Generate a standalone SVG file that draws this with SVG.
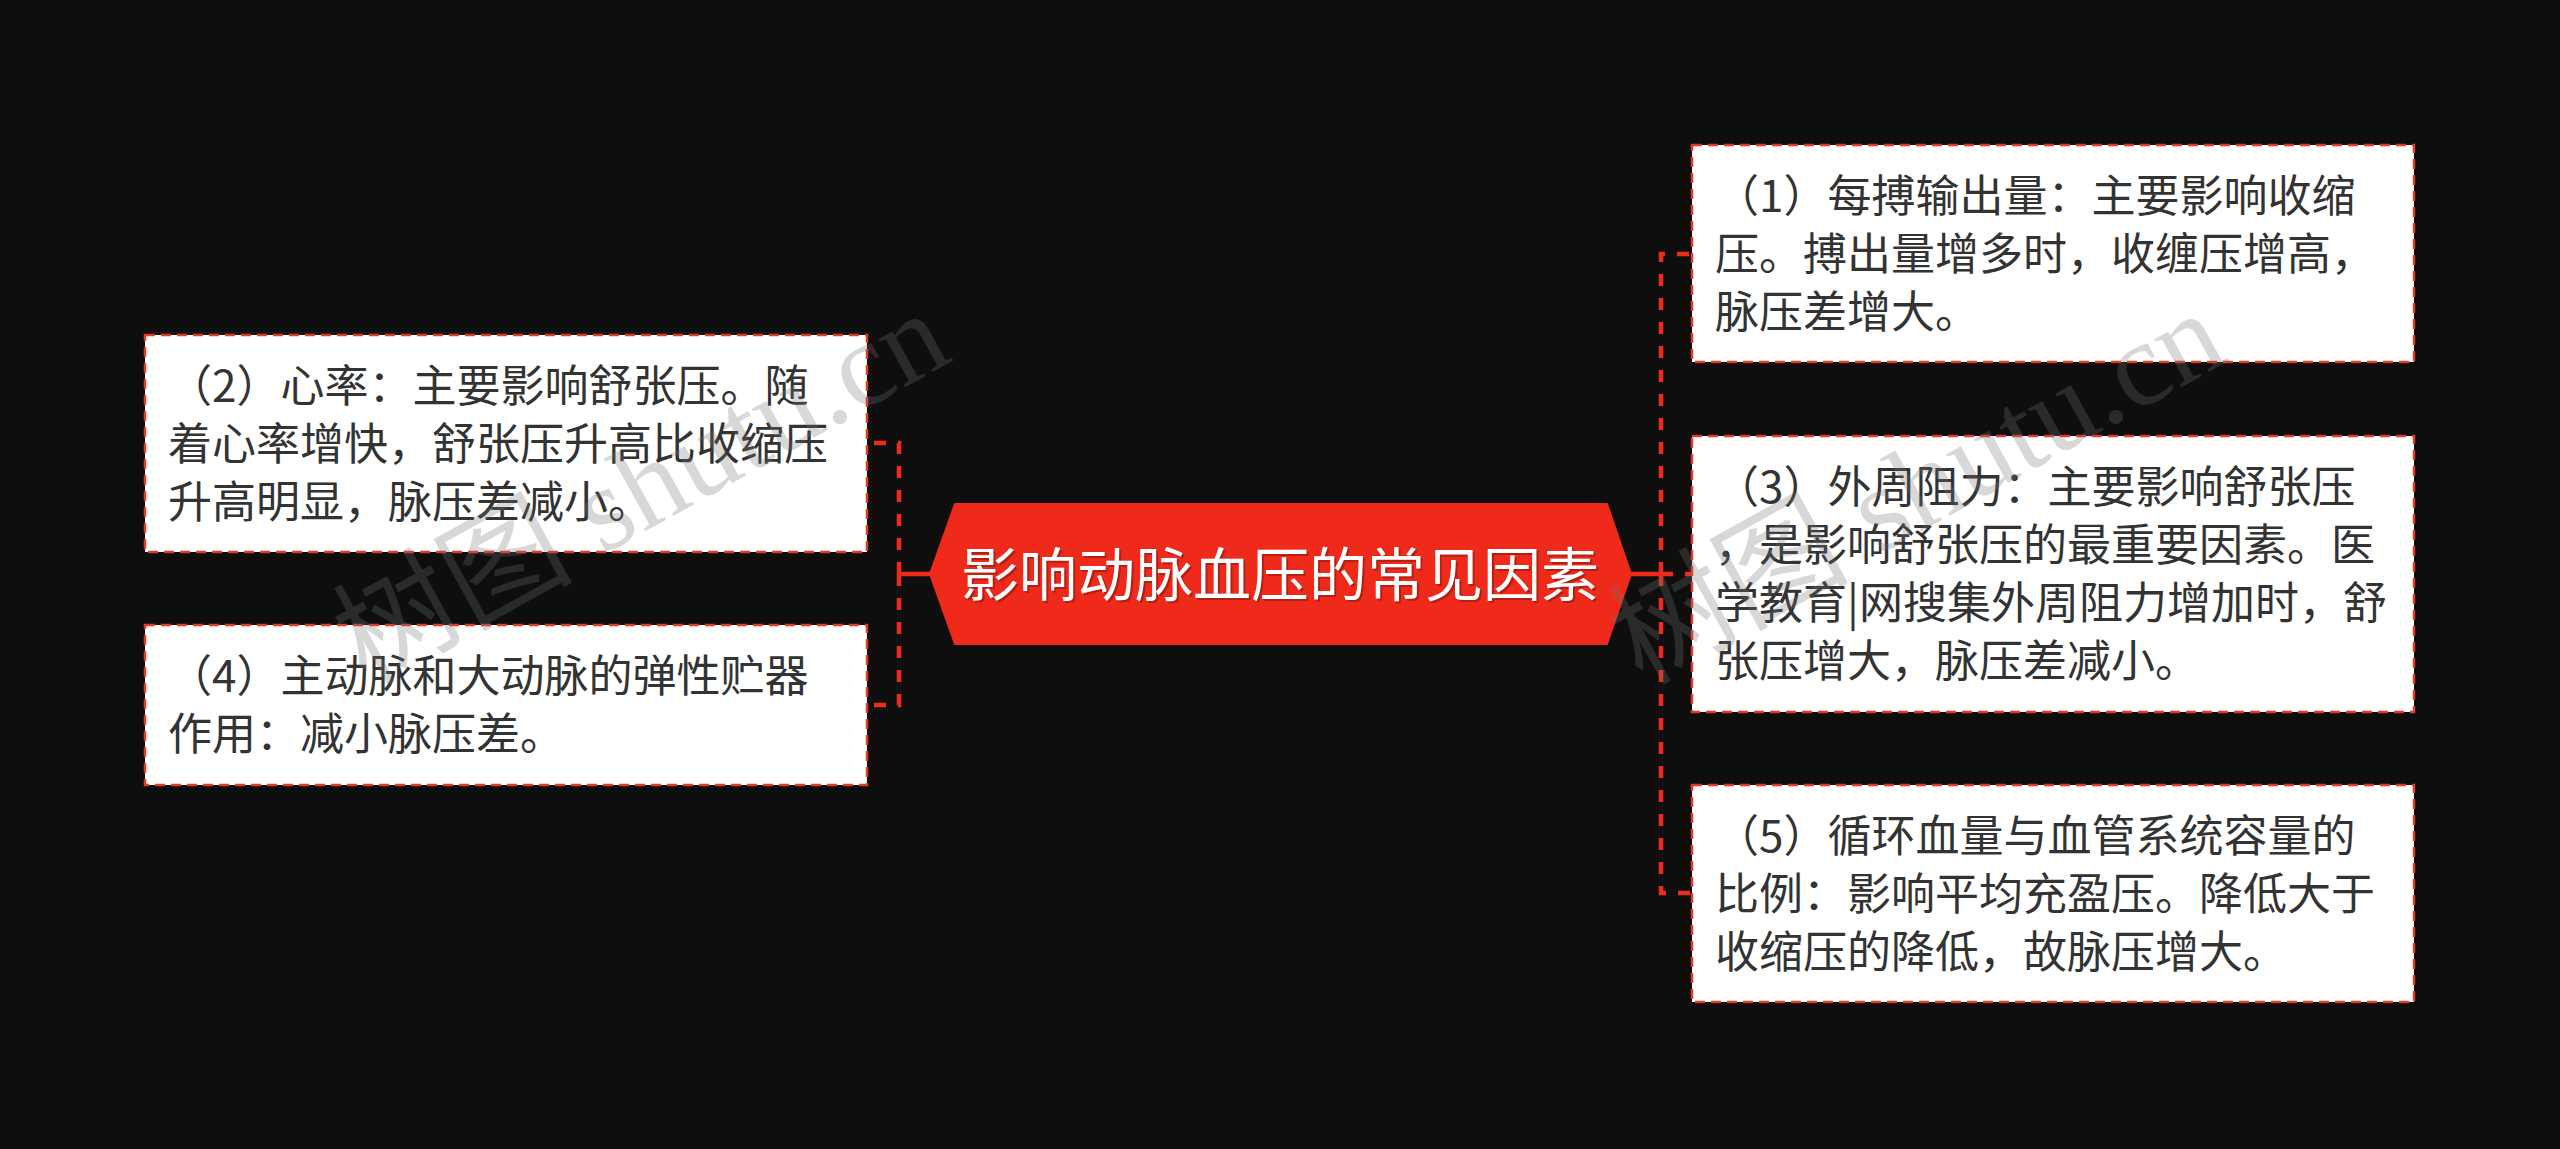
<svg xmlns="http://www.w3.org/2000/svg" width="2560" height="1149" viewBox="0 0 2560 1149">
  <style>
    .box { fill: #ffffff; stroke: #E23B2B; stroke-width: 2.5; stroke-dasharray: 10 6; }
    .txt { font-family: "Noto Sans CJK SC", "Noto Sans", sans-serif; font-size: 44px; fill: #333333; }
    .conn { fill: none; stroke: #EE2C1B; stroke-width: 4.5; stroke-dasharray: 12 12; }
    .solid { fill: none; stroke: #EE2C1B; stroke-width: 4.5; }
    .center { fill: #EF2A1A; stroke: #EF2A1A; stroke-width: 2; stroke-linejoin: round; }
    .ctxt { font-family: "Noto Sans CJK SC", "Noto Sans", sans-serif; font-size: 58px; fill: #ffffff; text-anchor: middle; }
    .wm { font-family: "Liberation Serif", "Noto Sans CJK SC", serif; font-size: 120px; fill: #747474; fill-opacity: 0.28; }
  </style>
  <rect x="0" y="0" width="2560" height="1149" fill="#0E0E0E"/>

  <g id="connectors">
    <path class="conn" d="M899 574 V443 H867"/>
    <path class="conn" d="M899 574 V705 H867"/>
    <path class="solid" d="M930 574 H899"/>
    <path class="conn" d="M1661 574 V254 H1692"/>
    <path class="conn" d="M1661 574 H1692"/>
    <path class="conn" d="M1661 574 V893 H1692"/>
    <path class="solid" d="M1631 574 H1661"/>
  </g>

  <g id="center">
    <path class="center" d="M955 504 H1607 L1631 574 L1607 644 H955 L930 574 Z"/>
    <text class="ctxt" x="1282" y="598" style="fill:#7a140c;fill-opacity:0.5">影响动脉血压的常见因素</text>
    <text class="ctxt" x="1280" y="596">影响动脉血压的常见因素</text>
  </g>

  <g id="node1">
    <rect class="box" x="1692" y="145" width="722" height="217"/>
    <text class="txt" x="1715" y="211.5">（1）每搏输出量：主要影响收缩</text>
    <text class="txt" x="1715" y="269.5">压。搏出量增多时，收缠压增高，</text>
    <text class="txt" x="1715" y="327.5">脉压差增大。</text>
  </g>

  <g id="node3">
    <rect class="box" x="1692" y="436" width="722" height="276"/>
    <text class="txt" x="1715" y="503">（3）外周阻力：主要影响舒张压</text>
    <text class="txt" x="1715" y="561">，是影响舒张压的最重要因素。医</text>
    <text class="txt" x="1715" y="619">学教育|网搜集外周阻力增加时，舒</text>
    <text class="txt" x="1715" y="677">张压增大，脉压差减小。</text>
  </g>

  <g id="node5">
    <rect class="box" x="1692" y="785" width="722" height="217"/>
    <text class="txt" x="1715" y="851.5">（5）循环血量与血管系统容量的</text>
    <text class="txt" x="1715" y="909.5">比例：影响平均充盈压。降低大于</text>
    <text class="txt" x="1715" y="967.5">收缩压的降低，故脉压增大。</text>
  </g>

  <g id="node2">
    <rect class="box" x="145" y="335" width="722" height="217"/>
    <text class="txt" x="168" y="401.5">（2）心率：主要影响舒张压。随</text>
    <text class="txt" x="168" y="459.5">着心率增快，舒张压升高比收缩压</text>
    <text class="txt" x="168" y="517.5">升高明显，脉压差减小。</text>
  </g>

  <g id="node4">
    <rect class="box" x="145" y="625" width="722" height="160"/>
    <text class="txt" x="168" y="692">（4）主动脉和大动脉的弹性贮器</text>
    <text class="txt" x="168" y="750">作用：减小脉压差。</text>
  </g>

  <g id="watermarks">
    <text class="wm" transform="translate(366 686) rotate(-29)">树图 shutu.cn</text>
    <text class="wm" transform="translate(1642 686) rotate(-29)">树图 shutu.cn</text>
  </g>
</svg>
